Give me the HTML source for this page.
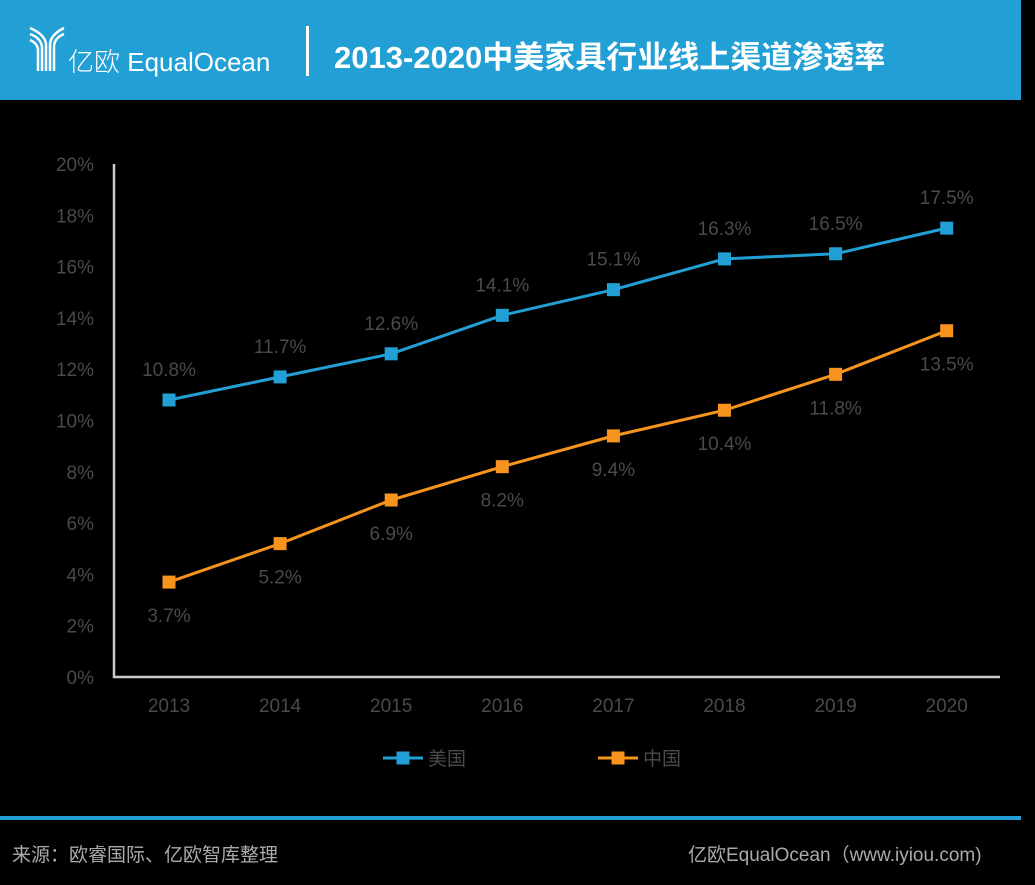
<!DOCTYPE html>
<html><head><meta charset="utf-8"><style>
body{margin:0;width:1035px;height:885px;background:#000;overflow:hidden;font-family:"Liberation Sans","Noto Sans CJK SC",sans-serif;position:relative}
.hdr{position:absolute;left:0;top:0;width:1021px;height:100px;background:#229fd5}
.t{position:absolute;white-space:nowrap}
</style></head><body>
<div class="hdr"></div>
<svg class="t" style="left:28px;top:25px" width="40" height="48">
<g fill="none" stroke="#fff" stroke-width="2.5"><path d="M2 3 Q18 10 18 20 V46"/><path d="M2 9 Q13 13 14 22 V46"/><path d="M2 15 Q9 18 10 24 V46"/><path d="M36 3 Q22 10 22 20 V46"/><path d="M36 9 Q26 13 26 22 V46"/></g></svg>
<div class="t" style="left:68px;top:42px;color:#fff;font-size:26px;font-family:'Liberation Sans','Noto Sans CJK SC',sans-serif;font-weight:300">亿欧 EqualOcean</div>
<div class="t" style="left:306px;top:26px;width:3px;height:50px;background:#fff"></div>
<div class="t" style="left:334px;top:32px;color:#fff;font-size:31px;font-weight:bold">2013-2020中美家具行业线上渠道渗透率</div>
<svg id="c" class="t" style="left:0;top:100px" width="1035" height="700"></svg>
<div class="t" style="left:0;top:816px;width:1021px;height:4px;background:#229fd5"></div>
<div class="t" style="left:12px;top:840px;color:#aaa;font-size:19px">来源：欧睿国际、亿欧智库整理</div>
<div class="t" style="left:688px;top:840px;color:#aaa;font-size:19px">亿欧EqualOcean（www.iyiou.com)</div>
<script>
const years=["2013","2014","2015","2016","2017","2018","2019","2020"];
const usVals=[10.8,11.7,12.6,14.1,15.1,16.3,16.5,17.5];
const cnVals=[3.7,5.2,6.9,8.2,9.4,10.4,11.8,13.5];
const yTicks=[0,2,4,6,8,10,12,14,16,18,20];
const svg=document.getElementById('c');const NS='http://www.w3.org/2000/svg';
const OY=100;
function x(i){return 169+i*111.1;}
function y(v){return 677-OY-v*25.65;}
function mk(t,a,p){const e=document.createElementNS(NS,t);for(const k in a)e.setAttribute(k,a[k]);(p||svg).appendChild(e);return e;}
yTicks.forEach(v=>{const e=mk('text',{x:94,y:y(v)+7,'text-anchor':'end',fill:'#4a4a4a','font-size':19,'font-family':'Liberation Sans,sans-serif'});e.textContent=v+'%';

});
const ax=mk('path',{d:`M114 ${y(20)} V${y(0)} H1000`,stroke:'#ccc','stroke-width':2.5,fill:'none'});


years.forEach((yr,i)=>{const e=mk('text',{x:x(i),y:y(0)+35,'text-anchor':'middle',fill:'#4a4a4a','font-size':19,'font-family':'Liberation Sans,sans-serif'});e.textContent=yr;

});
function series(vals,col,name,off){
const l=mk('polyline',{points:vals.map((v,i)=>x(i)+','+y(v)).join(' '),stroke:col,'stroke-width':3,fill:'none'});


vals.forEach((v,i)=>{const r=mk('rect',{x:x(i)-6.5,y:y(v)-6.5,width:13,height:13,fill:col});


const t=mk('text',{x:x(i),y:y(v)+off,'text-anchor':'middle',fill:'#4a4a4a','font-size':19,'font-family':'Liberation Sans,sans-serif'});t.textContent=v.toFixed(1)+'%';

});}
series(usVals,'#229fd5','us',-24);
series(cnVals,'#f7941d','china',40);
function legend(lx,col,label,name){const g=mk('g',{});


mk('line',{x1:lx,x2:lx+40,y1:658,y2:658,stroke:col,'stroke-width':3},g);
mk('rect',{x:lx+13.5,y:651.5,width:13,height:13,fill:col},g);
const t=mk('text',{x:lx+45,y:665,fill:'#4a4a4a','font-size':19,'font-family':'Noto Sans CJK SC,sans-serif'},g);t.textContent=label;}
legend(383,'#229fd5','美国','us');
legend(598,'#f7941d','中国','china');
</script>
</body></html>
